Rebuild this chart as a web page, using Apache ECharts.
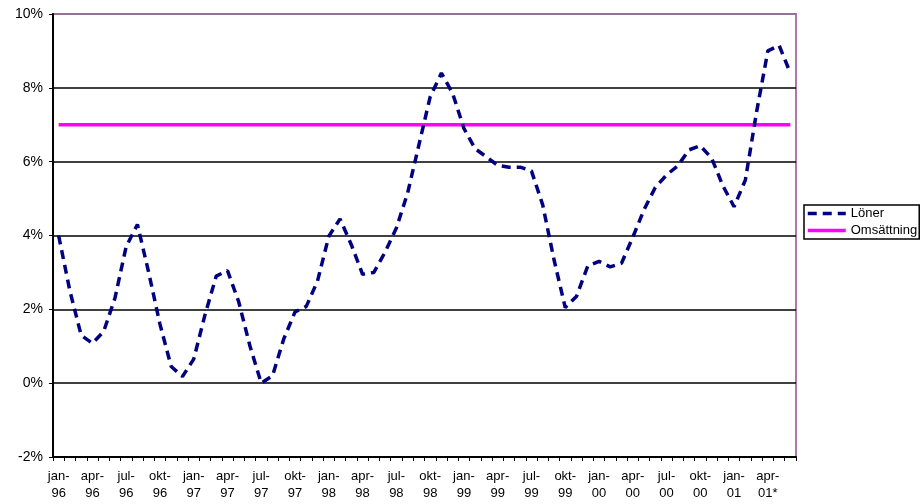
<!DOCTYPE html>
<html>
<head>
<meta charset="utf-8">
<script src="https://cdn.jsdelivr.net/npm/echarts@6/dist/echarts.min.js"></script>
<style>
html,body{margin:0;padding:0;background:#fff;}
#chart{width:922px;height:504px;}
</style>
</head>
<body>
<div id="chart"></div>
<script>
const categories = [
  'jan-96','feb-96','mar-96','apr-96','maj-96','jun-96','jul-96','aug-96','sep-96','okt-96','nov-96','dec-96',
  'jan-97','feb-97','mar-97','apr-97','maj-97','jun-97','jul-97','aug-97','sep-97','okt-97','nov-97','dec-97',
  'jan-98','feb-98','mar-98','apr-98','maj-98','jun-98','jul-98','aug-98','sep-98','okt-98','nov-98','dec-98',
  'jan-99','feb-99','mar-99','apr-99','maj-99','jun-99','jul-99','aug-99','sep-99','okt-99','nov-99','dec-99',
  'jan-00','feb-00','mar-00','apr-00','maj-00','jun-00','jul-00','aug-00','sep-00','okt-00','nov-00','dec-00',
  'jan-01','feb-01','mar-01','apr-01*','maj-01','jun-01'
];
const loner = [
  4.0, 2.5, 1.3, 1.08, 1.4, 2.3, 3.7, 4.3, 3.0, 1.6, 0.45, 0.18,
  0.65, 1.85, 2.9, 3.05, 2.2, 1.0, 0.0, 0.2, 1.2, 1.93, 2.08, 2.77,
  3.98, 4.45, 3.75, 2.95, 3.0, 3.55, 4.2, 5.15, 6.45, 7.75, 8.4, 7.85,
  6.9, 6.35, 6.13, 5.9, 5.85, 5.85, 5.75, 4.83, 3.35, 2.05, 2.35, 3.17,
  3.3, 3.15, 3.25, 3.95, 4.7, 5.3, 5.64, 5.89, 6.32, 6.43, 6.1, 5.35,
  4.78, 5.5, 7.35, 9.0, 9.15, 8.4
];
const omsattning = [
  7, 7, 7, 7, 7, 7, 7, 7, 7, 7, 7, 7,
  7, 7, 7, 7, 7, 7, 7, 7, 7, 7, 7, 7,
  7, 7, 7, 7, 7, 7, 7, 7, 7, 7, 7, 7,
  7, 7, 7, 7, 7, 7, 7, 7, 7, 7, 7, 7,
  7, 7, 7, 7, 7, 7, 7, 7, 7, 7, 7, 7,
  7, 7, 7, 7, 7, 7
];
const seriesNames = ['Löner', 'Omsättning'];
const yMin = -2, yMax = 10, yStep = 2;

const chart = echarts.init(document.getElementById('chart'));
const font = '"Liberation Sans", Arial, sans-serif';
chart.setOption({
  animation: false,
  backgroundColor: '#ffffff',
  textStyle: { fontFamily: font, color: '#000' },
  grid: {
    left: 53, right: 126, top: 14, bottom: 47,
    show: true, borderColor: '#a87ca8', borderWidth: 2, backgroundColor: 'transparent'
  },
  legend: {
    orient: 'vertical',
    left: 804, top: 205,
    padding: [2, 2, 2, 2],
    itemGap: 4,
    itemWidth: 38, itemHeight: 14,
    borderColor: '#000', borderWidth: 1.5,
    itemStyle: { opacity: 0 },
    lineStyle: { width: 3.5 },
    textStyle: { fontFamily: font, fontSize: 13, color: '#000' },
    data: seriesNames
  },
  xAxis: {
    type: 'category',
    data: categories,
    boundaryGap: true,
    axisLine: { show: true, onZero: false, lineStyle: { color: '#000', width: 2 } },
    axisTick: { show: true, interval: 0, length: 4, lineStyle: { color: '#000', width: 1 } },
    axisLabel: {
      interval: 2,
      margin: 11,
      fontFamily: font, fontSize: 13, color: '#000', lineHeight: 17,
      formatter: function (v) { const i = v.indexOf('-'); return v.slice(0, i + 1) + '\n' + v.slice(i + 1); }
    },
    splitLine: { show: false }
  },
  yAxis: {
    type: 'value',
    min: yMin, max: yMax, interval: yStep,
    axisLine: { show: true, lineStyle: { color: '#000', width: 2 } },
    axisTick: { show: true, length: 4, lineStyle: { color: '#000', width: 1 } },
    axisLabel: { margin: 10, fontFamily: font, fontSize: 14, color: '#000', formatter: '{value}%' },
    splitLine: { show: true, lineStyle: { color: ['#000', '#000', '#000', '#000', '#000', '#000', '#8f6f8f'], width: 1.5 } }
  },
  series: [
    {
      name: seriesNames[0], type: 'line', data: loner, symbol: 'none', z: 3,
      lineStyle: { color: '#000080', width: 3.5, type: [9, 6], cap: 'butt' },
      itemStyle: { color: '#000080' }
    },
    {
      name: seriesNames[1], type: 'line', data: omsattning, symbol: 'none', z: 2,
      lineStyle: { color: '#ff00ff', width: 3.5, type: 'solid' },
      itemStyle: { color: '#ff00ff' }
    }
  ]
});
</script>
</body>
</html>
